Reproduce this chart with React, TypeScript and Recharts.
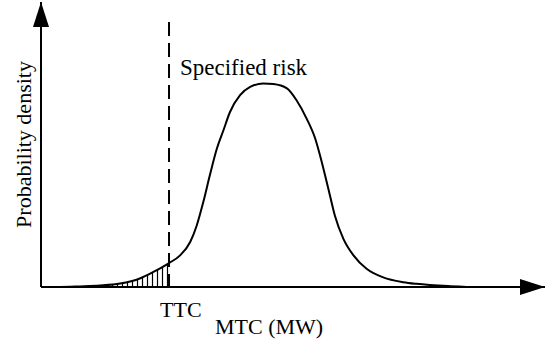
import { Area, ComposedChart, Line, ReferenceLine, XAxis, YAxis } from 'recharts';

const FONT = 'Liberation Serif';

// MTC positions (arbitrary units, 0..100 across the axis)
const mtc = [0, 3.8, 7.7, 11.7, 15.7, 19.6, 22.2, 25.4, 27.6, 29.6, 30.9, 32.2, 33.5, 34.9, 36.2, 37.5, 39.5, 41.5, 44.1, 46.1, 48.8, 50.7, 52.7, 54.4, 55.7, 57, 58.3, 60, 62, 64.6, 67.9, 71.9, 74.5, 81.2, 87.1, 92];
// probability density
const density = [0, 0, 0.2, 0.5, 1.2, 3.0, 5.2, 8.4, 11.1, 15.8, 21.6, 29.8, 39.2, 48.6, 55, 61.4, 67.3, 70.2, 71.4, 71.2, 69.7, 65.5, 59.1, 52.1, 43.9, 34.6, 25.1, 16.9, 11.1, 6.4, 3.4, 1.7, 1.1, 0.3, 0, 0];

const TTC = 25.4;
const DASH_TOP = 93;

const data = mtc.map((x, i) => ({
  x,
  density: density[i],
  hatch: x <= TTC ? density[i] : null,
}));

function TtcTick({ x, y }: { x: number; y: number }) {
  return (
    <text x={x - 9} y={y + 22} fontFamily={FONT} fontSize={22} fill="#000">
      TTC
    </text>
  );
}

export default function App() {
  return (
    <div style={{ position: 'absolute', left: 0, top: 0, background: '#fff', fontFamily: FONT }}>
      <svg width={0} height={0} style={{ position: 'absolute' }}>
        <defs>
          <marker id="arrow" markerUnits="userSpaceOnUse" markerWidth={26} markerHeight={18} refX={25} refY={9} orient="auto-start-reverse">
            <path d="M0,1 L25,9 L0,17 z" fill="#000" />
          </marker>
          <pattern id="hatch" patternUnits="userSpaceOnUse" width={5} height={10}>
            <line x1={2.5} y1={0} x2={2.5} y2={10} stroke="#000" strokeWidth={1.2} />
          </pattern>
        </defs>
      </svg>
      <ComposedChart width={551} height={348} data={data} margin={{ top: 2, right: 6, bottom: 0, left: 0 }}>
        <XAxis
          dataKey="x"
          type="number"
          domain={[0, 100]}
          ticks={[TTC]}
          tickLine={false}
          tick={(p: any) => <TtcTick x={p.x} y={p.y} />}
          axisLine={{ stroke: '#000', strokeWidth: 2, markerEnd: 'url(#arrow)' }}
          height={61}
          label={({ viewBox }: any) => (
            <text x={viewBox.x + 174} y={viewBox.y + 47} fontFamily={FONT} fontSize={22} fill="#000">
              MTC (MW)
            </text>
          )}
        />
        <YAxis
          type="number"
          domain={[0, 100]}
          tick={false}
          tickLine={false}
          width={41}
          axisLine={{ stroke: '#000', strokeWidth: 2, markerStart: 'url(#arrow)' }}
          label={({ viewBox }: any) => {
            const cx = 23;
            const cy = viewBox.y + viewBox.height / 2;
            return (
              <text x={cx} y={cy} transform={`rotate(-90 ${cx} ${cy})`} textAnchor="middle" dominantBaseline="central" fontFamily={FONT} fontSize={22} fill="#000">
                Probability density
              </text>
            );
          }}
        />
        <Area dataKey="hatch" type="monotone" stroke="none" fill="url(#hatch)" fillOpacity={1} isAnimationActive={false} />
        <Line dataKey="density" type="monotone" stroke="#000" strokeWidth={2} dot={false} activeDot={false} isAnimationActive={false} />
        <ReferenceLine
          segment={[{ x: TTC, y: DASH_TOP }, { x: TTC, y: 0 }]}
          stroke="#000"
          strokeWidth={2}
          strokeDasharray="14 7"
          label={({ viewBox }: any) => (
            <text x={viewBox.x + 11} y={viewBox.y + 53} fontFamily={FONT} fontSize={23} fill="#000">
              Specified risk
            </text>
          )}
        />
      </ComposedChart>
    </div>
  );
}
